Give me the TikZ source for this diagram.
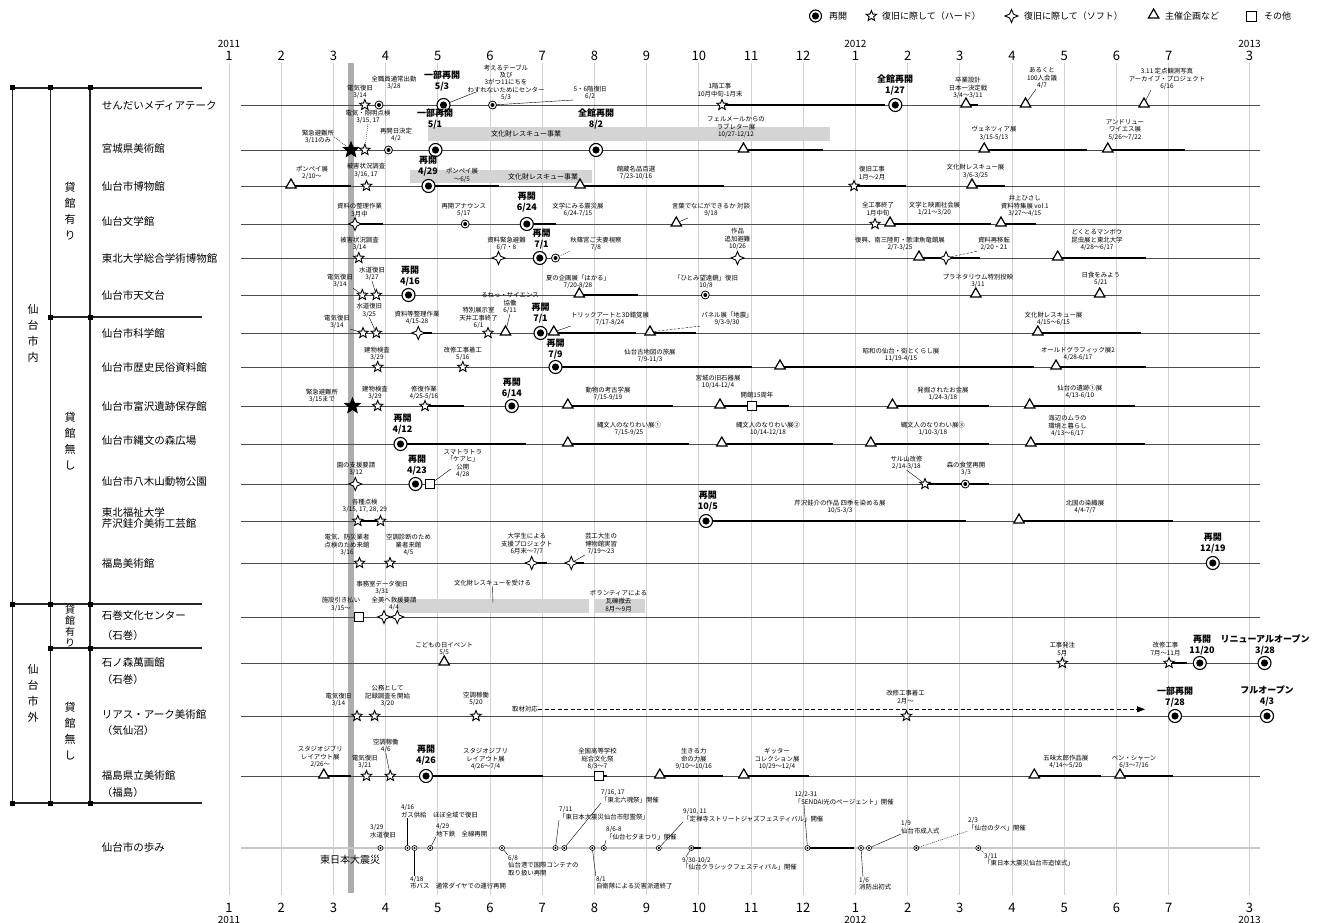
\documentclass[tikz,border=0pt]{standalone}
\usepackage{fontspec}
\setmainfont{Noto Sans CJK JP}
\usetikzlibrary{shapes.geometric,arrows.meta}
\newcommand\EvM[4]{\node[#2] (#1) at (#3,#4) {};}
\newcommand\EvL[4]{\node[lbl,anchor=south] (#1) at (#2,#3) {#4};}
\newcommand\EvB[4]{\node[bl,anchor=south] (#1) at (#2,#3) {#4};}
\def\YA{105}\def\YB{150}\def\YC{186}\def\YD{224}\def\YE{258}\def\YF{295}
\def\YG{333}\def\YH{367}\def\YI{406}\def\YJ{444}\def\YK{484}\def\YL{521}
\def\YM{563}\def\YN{617}\def\YO{663}\def\YP{716}\def\YQ{776}\def\YR{848}
\tikzset{
 grid/.style={draw=black!18, line width=0.8pt},
 rowl/.style={draw=black!70, line width=0.9pt},
 dur/.style={draw=black, line width=2.4pt},
 struct/.style={draw=black!85, line width=1.1pt},
 blk/.style={rectangle, fill=black, minimum size=5pt, inner sep=0pt},
 band/.style={fill=black!17},
 lbl/.style={font=\fontsize{6.4}{7.4}\selectfont, align=center, inner sep=0pt},
 lbll/.style={lbl, align=left},
 bl/.style={font=\bfseries\fontsize{9}{10.5}\selectfont, align=center, inner sep=0pt},
 lgt/.style={font=\fontsize{9}{10}\selectfont, anchor=west, inner sep=0pt},
 rl/.style={font=\fontsize{10.5}{12}\selectfont, anchor=west, inner sep=0pt},
 grp/.style={font=\fontsize{11}{16}\selectfont, align=center, inner sep=0pt},
 axm/.style={font=\fontsize{13}{13}\selectfont, inner sep=0pt},
 axy/.style={font=\fontsize{10}{10}\selectfont, inner sep=0pt},
 lead/.style={draw=black, line width=0.4pt},
 leaddot/.style={lead, dash pattern=on 1pt off 1pt},
 leaddash/.style={lead, dash pattern=on 2.5pt off 1.5pt},
 reo/.style={circle, draw=black, line width=1.1pt, fill=white, minimum size=13pt, inner sep=0pt,
   path picture={\fill[black] (path picture bounding box.center) circle[radius=3.6pt];}},
 reos/.style={circle, draw=black, line width=0.8pt, fill=white, minimum size=8pt, inner sep=0pt,
   path picture={\fill[black] (path picture bounding box.center) circle[radius=2pt];}},
 dot/.style={circle, draw=black, line width=0.6pt, fill=white, minimum size=5pt, inner sep=0pt,
   path picture={\fill[black] (path picture bounding box.center) circle[radius=1.2pt];}},
 hstar/.style={star, star points=5, star point ratio=2.3, draw=black, fill=white, line width=0.9pt, minimum size=11pt, inner sep=0pt},
 fstar/.style={hstar, fill=black, minimum size=16pt},
 sdia/.style={star, star points=4, star point ratio=2.4, draw=black, fill=white, line width=0.9pt, minimum size=13pt, inner sep=0pt},
 tri/.style={regular polygon, regular polygon sides=3, draw=black, fill=white, line width=1.2pt, minimum size=12pt, inner sep=0pt, yshift=1pt},
 sq/.style={rectangle, draw=black, fill=white, line width=0.9pt, minimum size=9pt, inner sep=0pt},
}
\begin{document}
\begin{tikzpicture}[x=1pt,y=-1pt]
\fill[white] (0,0) rectangle (1318,923);
\useasboundingbox (0,0) rectangle (1318,923);

% ---------- legend
\node[reo, minimum size=12pt] (lg1) at (815.5,16) {}; \node[lgt] (lg1t) at (829,16) {再開};
\node[hstar] (lg2) at (871.4,16) {}; \node[lgt] (lg2t) at (882,16) {復旧に際して（ハード）};
\node[sdia] (lg3) at (1011.5,16) {}; \node[lgt] (lg3t) at (1024,16) {復旧に際して（ソフト）};
\node[tri] (lg4) at (1153.6,16) {}; \node[lgt] (lg4t) at (1165,16) {主催企画など};
\node[sq, minimum size=10pt] (lg5) at (1251,16) {}; \node[lgt] (lg5t) at (1264,16) {その他};

% ---------- axes and grid
\foreach \k in {0,...,18} {
  \pgfmathtruncatemacro\mm{mod(\k,12)+1}
  \draw[grid] ({229+52.2*\k},63) -- ({229+52.2*\k},895);
  \node[axm] (tm\k) at ({229+52.2*\k},56) {\mm};
  \node[axm] (bm\k) at ({229+52.2*\k},908) {\mm};
}
\draw[grid] (1249.5,63) -- (1249.5,895);
\node[axm] (tm19) at (1249.5,56) {3};
\node[axm] (bm19) at (1249.5,908) {3};
\node[axy] (ty1) at (229,44) {2011}; \node[axy] (ty2) at (855.4,44) {2012}; \node[axy] (ty3) at (1249.5,44) {2013};
\node[axy] (by1) at (229,920) {2011}; \node[axy] (by2) at (855.4,920) {2012}; \node[axy] (by3) at (1249.5,920) {2013};

% earthquake band
\fill[black!32] (347.5,63) rectangle (354,893);

% ---------- left structure
\foreach \x in {12.7,50.7,90} \draw[struct] (\x,88) -- (\x,803);
\draw[struct] (12.7,88) -- (202,88);
\draw[struct] (50.7,317) -- (202,317);
\draw[struct] (12.7,604) -- (202,604);
\draw[struct] (50.7,648) -- (202,648);
\draw[struct] (12.7,803) -- (202,803);
\foreach \x/\y [count=\i] in {12.7/88,50.7/88,90/88,50.7/317,90/317,12.7/604,50.7/604,90/604,50.7/648,90/648,12.7/803,50.7/803,90/803}
  \node[blk] (sqk\i) at (\x,\y) {};
\node[grp] (g1) at (33,333) {仙\\台\\市\\内};
\node[grp] (g2) at (70,211) {貸\\館\\有\\り};
\node[grp] (g3) at (70,441) {貸\\館\\無\\し};
\node[grp, font=\fontsize{10}{11}\selectfont] (g4) at (70,626) {貸\\館\\有\\り};
\node[grp] (g5) at (33,693) {仙\\台\\市\\外};
\node[grp] (g6) at (70,731) {貸\\館\\無\\し};

\node[rl] (n1) at (101.7,\YA) {せんだいメディアテーク};
\node[rl] (n2) at (101.7,149) {宮城県美術館};
\node[rl] (n3) at (101.7,\YC) {仙台市博物館};
\node[rl] (n4) at (101.7,221) {仙台文学館};
\node[rl] (n5) at (101.7,\YE) {東北大学総合学術博物館};
\node[rl] (n6) at (101.7,\YF) {仙台市天文台};
\node[rl] (n7) at (101.7,\YG) {仙台市科学館};
\node[rl] (n8) at (101.7,\YH) {仙台市歴史民俗資料館};
\node[rl] (n9) at (101.7,\YI) {仙台市富沢遺跡保存館};
\node[rl] (n10) at (101.7,441) {仙台市縄文の森広場};
\node[rl] (n11) at (101.7,482) {仙台市八木山動物公園};
\node[rl] (n12) at (101.7,512) {東北福祉大学};
\node[rl] (n12b) at (101.7,523.5) {芹沢銈介美術工芸館};
\node[rl] (n13) at (101.7,\YM) {福島美術館};
\node[rl] (n14) at (101.7,616) {石巻文化センター};
\node[rl] (n14b) at (101.7,636) {（石巻）};
\node[rl] (n15) at (101.7,663) {石ノ森萬画館};
\node[rl] (n15b) at (101.7,680) {（石巻）};
\node[rl] (n16) at (101.7,714) {リアス・アーク美術館};
\node[rl] (n16b) at (101.7,731) {（気仙沼）};
\node[rl] (n17) at (101.7,775) {福島県立美術館};
\node[rl] (n17b) at (101.7,793) {（福島）};
\node[rl] (n18) at (101.7,\YR) {仙台市の歩み};

% ---------- rescue bands
\fill[band] (428,127) rectangle (829.5,141);
\fill[band] (410,170) rectangle (592,183.3);
\fill[band] (397.3,599.3) rectangle (589,612.7);
\fill[band] (594,599.3) rectangle (644.8,612.7);

% ---------- row lines
\foreach \y in {\YA,\YB,\YC,\YD,\YE,\YF,\YG,\YH,\YI,\YJ,\YK,\YL,\YM,\YN,\YO,\YP,\YQ}
  \draw[rowl] (241,\y) -- (1260,\y);
\draw[draw=black!22, line width=2pt] (241,\YR) -- (1260,\YR);
\node[font=\fontsize{10}{10}\selectfont, inner sep=0pt] (quake) at (350,860) {東日本大震災};

% ---------- duration bars
\foreach \a/\b/\c in {722/885/\YA, 966/978/\YA,
  743.5/823/\YB, 984.2/1086.8/\YB, 1107.8/1184.8/\YB,
  291/351/\YC, 428.5/498.8/\YC, 580/723.5/\YC, 854/905.8/\YC, 972/1004.5/\YC,
  355/383.3/\YD, 526.8/555.5/\YD, 890/991/\YD, 1001/1036/\YD,
  919/980/\YE, 1057.7/1146/\YE,
  579.3/637.8/\YF,
  418.3/432.3/\YG, 555/636/\YG, 650/695.5/\YG, 1037.8/1141/\YG,
  555.5/751.5/\YH, 780/1034/\YH, 1056/1146/\YH,
  425/463.8/\YI, 567.8/672.8/\YI, 720/789/\YI, 892.5/988.8/\YI, 1029.7/1134.7/\YI,
  400.5/525.8/\YJ, 567.8/688.5/\YJ, 721.8/833/\YJ, 870.8/988.8/\YJ, 1030.8/1145/\YJ,
  925/988.8/\YK,
  357.8/380.5/\YL, 706/966/\YL, 1019/1172.5/\YL,
  531.7/546.8/\YM, 571.3/584.2/\YM,
  1169/1186.5/\YO,
  323.8/350.8/\YQ, 426/542.6/\YQ, 598.6/607.3/\YQ, 659.8/722.8/\YQ, 743.8/809.2/\YQ, 1034.3/1100.8/\YQ, 1120/1172.5/\YQ,
  691.3/700.8/\YR, 807.5/854/\YR}
  \draw[dur] (\a,\c) -- (\b,\c);

% ---------- row 1
\EvM{a1}{hstar}{364.8}{\YA} \EvL{a1t}{360}{99}{電気復旧\\3/14}
\EvM{a2}{reos}{379}{\YA} \EvL{a2t}{394}{90}{全職員通常出勤\\3/28}
\EvM{a3}{reo}{443.5}{\YA} \EvB{a3t}{442}{91}{一部再開\\5/3}
\EvL{a4t}{506}{101}{考えるテーブル\\及び\\3がつ11にちを\\わすれないためにセンター\\5/3}
\coordinate (a4p) at (476,92); \draw[lead] (a4p) -- (a3);
\EvM{a5}{reos}{492.5}{\YA} \EvL{a5t}{590}{100}{5・6階復旧\\6/2} \draw[lead] (a5) -- (a5t.south west);
\EvM{a6}{hstar}{722}{\YA} \EvL{a6t}{720}{97}{1階工事\\10月中旬-1月末}
\EvM{a7}{reo}{895.3}{\YA} \EvB{a7t}{895}{95}{全館再開\\1/27}
\EvM{a8}{tri}{966}{\YA} \EvL{a8t}{968}{99}{卒業設計\\日本一決定戦\\3/4〜3/11}
\EvM{a9}{tri}{1025.5}{\YA} \EvL{a9t}{1042}{89}{あるくと\\100人会議\\4/7} \draw[lead] ([xshift=-6pt]a9t.south) -- (a9);
\EvM{a10}{tri}{1144}{\YA} \EvL{a10t}{1167}{90}{3.11 定点観測写真\\アーカイブ・プロジェクト\\6/16} \draw[lead] ([xshift=-16pt]a10t.south) -- (a10);

% ---------- row 2
\node[lbl, font=\fontsize{7}{8}\selectfont] (b0) at (526,134) {文化財レスキュー事業};
\EvM{b1}{fstar}{351}{\YB} \EvL{b1t}{318}{144}{緊急避難所\\3/11のみ} \draw[leaddot] (b1t.east) -- (b1);
\EvM{b2}{hstar}{364.8}{\YB} \EvL{b2t}{368}{124}{電気・照明点検\\3/15, 17} \draw[leaddot] (b2t.south) -- (b2);
\EvM{b3}{reos}{388.5}{\YB} \EvL{b3t}{396}{142}{再開日決定\\4/2}
\EvM{b4}{reo}{435.5}{\YB} \EvB{b4t}{435}{129}{一部再開\\5/1}
\EvM{b5}{reo}{596}{\YB} \EvB{b5t}{596}{129}{全館再開\\8/2}
\EvM{b6}{tri}{743.5}{\YB} \EvL{b6t}{736}{138}{フェルメールからの\\ラブレター展\\10/27-12/12}
\EvM{b7}{tri}{984.2}{\YB} \EvL{b7t}{994}{140.5}{ヴェネツィア展\\3/15-5/13}
\EvM{b8}{tri}{1107.8}{\YB} \EvL{b8t}{1125}{140.5}{アンドリュー\\ワイエス展\\5/26〜7/22}

% ---------- row 3
\node[lbl, font=\fontsize{7}{8}\selectfont] (c0) at (543,176.7) {文化財レスキュー事業};
\EvM{c1}{tri}{291}{\YC} \EvL{c1t}{312}{180}{ポンペイ展\\2/10〜}
\EvM{c2}{hstar}{366.5}{\YC} \EvL{c2t}{366}{177.5}{被害状況調査\\3/16, 17}
\EvM{c3}{reo}{428.5}{\YC} \EvB{c3t}{428}{176}{再開\\4/29}
\EvL{c4t}{462}{182.5}{ポンペイ展\\〜6/5}
\EvM{c5}{tri}{580}{\YC} \EvL{c5t}{636}{180}{館蔵名品百選\\7/23-10/16}
\EvM{c6}{hstar}{854}{\YC} \EvL{c6t}{872}{180}{復旧工事\\1月〜2月}
\EvM{c7}{tri}{972}{\YC} \EvL{c7t}{975.5}{178.5}{文化財レスキュー展\\3/6-3/25}

% ---------- row 4
\EvM{d1}{sdia}{355}{\YD} \EvL{d1t}{359.5}{217}{資料の整理作業\\3月中}
\EvM{d2}{reos}{465.2}{\YD} \EvL{d2t}{463.8}{217}{再開アナウンス\\5/17}
\EvM{d3}{reo}{526.8}{\YD} \EvB{d3t}{526.8}{212}{再開\\6/24}
\EvL{d4t}{578}{217}{文学にみる震災展\\6/24-7/15}
\EvM{d5}{tri}{676.3}{\YD} \EvL{d5t}{711}{217}{言葉でなにができるか 対談\\9/18}
\coordinate (d5p) at (688,218); \draw[lead] (d5p) -- (d5);
\EvM{d6}{hstar}{875}{\YD} \EvL{d6t}{878}{216}{全工事終了\\1月中旬}
\EvM{d7}{tri}{890}{\YD} \EvL{d7t}{934.5}{216}{文学と映画社会展\\1/21〜3/20}
\EvM{d8}{tri}{1001}{\YD} \EvL{d8t}{1024.8}{217}{井上ひさし\\資料特集展 vol.1\\3/27〜4/15}

% ---------- row 5
\EvM{e1}{hstar}{358.8}{\YE} \EvL{e1t}{359.5}{251}{被害状況調査\\3/14}
\EvM{e2}{sdia}{498.5}{\YE} \EvL{e2t}{506.5}{251}{資料緊急避難\\6/7・8}
\EvM{e3}{reo}{539.8}{\YE} \EvB{e3t}{541.5}{249}{再開\\7/1}
\EvM{e4}{reos}{555.5}{\YE} \EvL{e4t}{596}{251}{秋篠宮ご夫妻視察\\7/8} \draw[leaddot] (e4) -- (e4t.south west);
\EvM{e5}{sdia}{737.5}{\YE} \EvL{e5t}{737.5}{250}{作品\\追加避難\\10/26}
\EvM{e6}{tri}{919}{\YE} \EvL{e6t}{900}{251}{復興、南三陸町・歌津魚竜館展\\2/7-3/25}
\EvM{e7}{sdia}{946}{\YE} \EvL{e7t}{994}{251}{資料再移転\\2/20・21} \draw[leaddash] (e7) -- (e7t.south west);
\EvM{e8}{tri}{1057.7}{\YE} \EvL{e8t}{1097}{251}{どくとるマンボウ\\昆虫展と東北大学\\4/28〜6/17}

% ---------- row 6
\EvM{f1}{hstar}{362.3}{\YF} \EvM{f2}{hstar}{376.3}{\YF}
\EvL{f1t}{340}{288}{電気復旧\\3/14} \draw[lead] (f1t.south east) -- (f1);
\EvL{f2t}{372}{281}{水道復旧\\3/27} \draw[lead] (f2t.south) -- (f2);
\EvM{f3}{reo}{408.5}{\YF} \EvB{f3t}{410}{286}{再開\\4/16}
\EvM{f4}{tri}{579.3}{\YF} \EvL{f4t}{578}{289}{夏の企画展「はかる」\\7/20-8/28}
\EvM{f5}{reos}{705.3}{\YF} \EvL{f5t}{706}{289}{「ひとみ望遠鏡」復旧\\10/8}
\EvM{f6}{tri}{975.8}{\YF} \EvL{f6t}{978}{288}{プラネタリウム特別投映\\3/11}
\EvM{f7}{tri}{1099.7}{\YF} \EvL{f7t}{1100.8}{286}{日食をみよう\\5/21}

% ---------- row 7
\EvM{g1}{hstar}{363}{\YG} \EvM{g2}{hstar}{376.3}{\YG}
\EvL{g1t}{337}{329}{電気復旧\\3/14} \draw[lead] (g1t.south east) -- (g1);
\EvL{g2t}{369.3}{317.5}{水道復旧\\3/25} \draw[lead] (g2t.south) -- (g2);
\EvM{g3}{sdia}{418.3}{\YG} \EvL{g3t}{417}{325}{資料等整理作業\\4/15-28}
\EvM{g4}{hstar}{488}{\YG} \EvL{g4t}{478.5}{329}{特別展示室\\天井工事終了\\6/1}
\EvM{g5}{tri}{505.5}{\YG} \EvL{g5t}{510}{314}{るねっ・サイエンス\\協働\\6/11} \draw[lead] (g5t.south) -- (g5);
\EvM{g6}{reo}{540.5}{\YG} \EvB{g6t}{540.5}{323}{再開\\7/1}
\EvM{g7}{tri}{553.8}{\YG} \EvL{g7t}{610}{326}{トリックアートと3D錯覚展\\7/17-8/24} \draw[lead] (g7t.south west) -- (g7);
\EvM{g8}{tri}{650}{\YG} \EvL{g8t}{727}{326}{パネル展「地震」\\9/3-9/30} \draw[leaddash] (g8) -- (g8t.south west);
\EvM{g9}{tri}{1037.8}{\YG} \EvL{g9t}{1053.5}{326}{文化財レスキュー展\\4/15〜6/15}

% ---------- row 8
\EvM{h1}{hstar}{377.7}{\YH} \EvL{h1t}{377}{361}{建物検査\\3/29}
\EvM{h2}{hstar}{462.8}{\YH} \EvL{h2t}{462.8}{361}{改修工事着工\\5/16}
\EvM{h3}{reo}{555.5}{\YH} \EvB{h3t}{555.5}{359}{再開\\7/9}
\EvL{h4t}{650}{363}{仙台古地図の旅展\\7/9-11/3}
\EvM{h5}{tri}{780}{\YH} \EvL{h5t}{901}{362}{昭和の仙台・街とくらし展\\11/19-4/15}
\EvM{h6}{tri}{1056}{\YH} \EvL{h6t}{1078}{361}{オールドグラフィック展2\\4/28-6/17}

% ---------- row 9
\EvM{i1}{fstar}{352.5}{\YI} \EvL{i1t}{322}{403}{緊急避難所\\3/15まで}
\EvM{i2}{hstar}{377.7}{\YI} \EvL{i2t}{375}{400}{建物検査\\3/29}
\EvM{i3}{hstar}{425}{\YI} \EvL{i3t}{424}{400}{修復作業\\4/25-5/16}
\EvM{i4}{reo}{511.8}{\YI} \EvB{i4t}{511.8}{398}{再開\\6/14}
\EvM{i5}{tri}{567.8}{\YI} \EvL{i5t}{608}{401}{動物の考古学展\\7/15-9/19}
\EvM{i6}{tri}{720}{\YI} \EvL{i6t}{718}{389}{宮城の旧石器展\\10/14-12/4}
\EvM{i7}{sq}{751.5}{\YI} \EvL{i7t}{757}{398}{開館15周年}
\EvM{i8}{tri}{892.5}{\YI} \EvL{i8t}{943}{401}{発掘されたお金展\\1/24-3/18}
\EvM{i9}{tri}{1029.7}{\YI} \EvL{i9t}{1079.8}{399}{仙台の遺跡①展\\4/13-6/10}

% ---------- row 10
\EvM{j1}{reo}{400.5}{\YJ} \EvB{j1t}{402.5}{434}{再開\\4/12}
\EvM{j2}{tri}{567.8}{\YJ} \EvL{j2t}{629}{436}{縄文人のなりわい展①\\7/15-9/25}
\EvM{j3}{tri}{721.8}{\YJ} \EvL{j3t}{768}{436}{縄文人のなりわい展②\\10/14-12/18}
\EvM{j4}{tri}{870.8}{\YJ} \EvL{j4t}{932.8}{436}{縄文人のなりわい展③\\1/10-3/18}
\EvM{j5}{tri}{1030.8}{\YJ} \EvL{j5t}{1067.5}{437}{海辺のムラの\\環境と暮らし\\4/13〜6/17}

% ---------- row 11
\EvM{k1}{sdia}{355.3}{\YK} \EvL{k1t}{356}{476}{園の支援要請\\3/12}
\EvM{k2}{reo}{415.5}{\YK} \EvB{k2t}{417}{475}{再開\\4/23}
\EvM{k3}{sq}{430.2}{\YK} \EvL{k3t}{462.8}{478}{スマトラトラ\\「ケアヒ」\\公開\\4/28}
\coordinate (k3p) at (451,469); \draw[lead] (k3p) -- (k3);
\EvM{k4}{hstar}{925}{\YK} \EvL{k4t}{906.5}{470}{サル山改修\\2/14-3/18} \draw[lead] (k4t.south) -- (k4);
\EvM{k5}{reos}{965.3}{\YK} \EvL{k5t}{966}{476}{森の食堂再開\\3/3}

% ---------- row 12
\EvM{l1}{hstar}{357.8}{\YL} \EvM{l2}{hstar}{380.5}{\YL} \EvL{l1t}{364.8}{513}{各種点検\\3/15, 17, 28, 29}
\EvM{l3}{reo}{706}{\YL} \EvB{l3t}{707.8}{511}{再開\\10/5}
\EvL{l4t}{840}{514}{芹沢銈介の作品 四季を染める展\\10/5-3/3}
\EvM{l5}{tri}{1019}{\YL} \EvL{l5t}{1085}{514}{北国の染織展\\4/4-7/7}

% ---------- row 13
\EvM{m1}{hstar}{359.5}{\YM} \EvL{m1t}{347}{556}{電気、防災業者\\点検のため来館\\3/16}
\EvM{m2}{hstar}{390}{\YM} \EvL{m2t}{408.5}{556}{空調診断のため\\業者来館\\4/5}
\EvM{m3}{sdia}{531.7}{\YM} \EvL{m3t}{526.8}{555}{大学生による\\支援プロジェクト\\6月末〜7/7}
\EvM{m4}{sdia}{571.3}{\YM} \EvL{m4t}{601}{555}{芸工大生の\\博物館実習\\7/19〜23} \draw[lead] (m4t.south west) -- (m4);
\EvM{m5}{reo}{1212.8}{\YM} \EvB{m5t}{1212.8}{553}{再開\\12/19}

% ---------- row 14
\EvL{n0t}{492.5}{586}{文化財レスキューを受ける}
\coordinate (n0p) at (493,603); \draw[lead] (n0t.south) -- (n0p);
\EvL{n5t}{618.5}{596}{ボランティアによる}
\node[lbl] (n6t) at (618.5,605) {瓦礫撤去\\8月〜9月};
\EvM{n1}{sq}{358.5}{\YN} \EvL{n1t}{341}{611.5}{施設引き払い\\3/15〜}
\EvM{n2}{sdia}{384}{\YN} \EvM{n3}{sdia}{397.3}{\YN}
\EvL{n2t}{382}{595}{事務室データ復旧\\3/31}
\EvL{n3t}{394}{611}{全美へ救援要請\\4/4}

% ---------- row 15
\EvM{o1}{tri}{444.2}{\YO} \EvL{o1t}{444.2}{656}{こどもの日イベント\\5/5}
\EvM{o2}{hstar}{1062.3}{\YO} \EvL{o2t}{1062.3}{656}{工事発注\\5月}
\EvM{o3}{hstar}{1169}{\YO} \EvL{o3t}{1165.5}{656}{改修工事\\7月〜11月}
\EvM{o4}{reo}{1199.8}{\YO} \EvB{o4t}{1202}{655}{再開\\11/20}
\EvM{o5}{reo}{1264.5}{\YO} \EvB{o5t}{1265}{655}{リニューアルオープン\\3/28}

% ---------- row 16
\EvM{p1}{hstar}{357}{\YP} \EvM{p2}{hstar}{374.6}{\YP}
\EvL{p1t}{338.5}{707}{電気復旧\\3/14}
\EvL{p2t}{387.5}{707}{公務として\\記録調査を開始\\3/20}
\EvM{p3}{hstar}{476}{\YP} \EvL{p3t}{476}{706}{空調稼働\\5/20}
\node[lbl, anchor=east] (p4t) at (538,709.3) {取材対応};
\coordinate (p4e) at (1145,709.3);
\draw[line width=0.8pt, dash pattern=on 4pt off 2.5pt, -{Triangle[length=8pt,width=6pt]}] (p4t.east) -- (p4e);
\EvM{p5}{hstar}{906.5}{\YP} \EvL{p5t}{905.5}{704}{改修工事着工\\2月〜}
\EvM{p6}{reo}{1175}{\YP} \EvB{p6t}{1175}{707}{一部再開\\7/28}
\EvM{p7}{reo}{1267}{\YP} \EvB{p7t}{1267}{706}{フルオープン\\4/3}

% ---------- row 17
\EvM{q1}{tri}{323.8}{\YQ} \EvL{q1t}{320.3}{768}{スタジオジブリ\\レイアウト展\\2/26〜}
\EvM{q2}{hstar}{366.5}{\YQ} \EvL{q2t}{364.8}{769}{電気復旧\\3/21}
\EvM{q3}{hstar}{390.3}{\YQ} \EvL{q3t}{385.8}{753}{空調稼働\\4/6} \draw[lead] (q3t.south) -- (q3);
\EvM{q4}{reo}{426}{\YQ} \EvB{q4t}{426}{765}{再開\\4/26}
\EvL{q5t}{485.5}{770}{スタジオジブリ\\レイアウト展\\4/26〜7/4}
\EvM{q6}{sq}{598.6}{\YQ} \EvL{q6t}{597.5}{770}{全国高等学校\\総合文化祭\\8/3〜7}
\EvM{q7}{tri}{659.8}{\YQ} \EvL{q7t}{693.8}{770}{生きる力\\命の力展\\9/10〜10/16}
\EvM{q8}{tri}{743.8}{\YQ} \EvL{q8t}{777}{770}{ギッター\\コレクション展\\10/29〜12/4}
\EvM{q9}{tri}{1034.3}{\YQ} \EvL{q9t}{1065.8}{769}{五味太郎作品展\\4/14〜5/20}
\EvM{q10}{tri}{1120}{\YQ} \EvL{q10t}{1134}{769}{ベン・シャーン\\6/3〜7/16}

% ---------- row 18
\EvM{r1}{dot}{380.5}{\YR} \node[lbll, anchor=south west] (r1t) at (370,838) {3/29\\水道復旧};
\EvM{r2}{dot}{407.5}{\YR} \node[lbll, anchor=south west] (r2t) at (400.8,818) {4/16\\ガス供給　ほぼ全域で復旧};
\coordinate (r2p) at (407.5,818); \draw[lead] (r2p) -- (r2);
\EvM{r3}{dot}{414.5}{\YR} \node[lbll, anchor=north west] (r3t) at (410,876) {4/18\\市バス　通常ダイヤでの運行再開};
\coordinate (r3p) at (414.5,876); \draw[lead] (r3) -- (r3p);
\EvM{r4}{dot}{430.2}{\YR} \node[lbll, anchor=south west] (r4t) at (435.8,837) {4/29\\地下鉄　全線再開}; \draw[lead] (r4) -- (r4t.south west);
\EvM{r5}{dot}{502}{\YR} \node[lbll, anchor=north west] (r5t) at (508,855) {6/8\\仙台港で国際コンテナの\\取り扱い再開}; \draw[lead] (r5) -- (r5t.north west);
\EvM{r6}{dot}{555.5}{\YR} \node[lbll, anchor=south west] (r6t) at (559,820) {7/11\\「東日本大震災仙台市慰霊祭」}; \draw[lead] (r6) -- (r6t.south west);
\EvM{r7}{dot}{564.3}{\YR} \node[lbll, anchor=south west] (r7t) at (601,803) {7/16, 17\\「東北六魂祭」開催}; \draw[lead] (r7) -- (r7t.south west);
\EvM{r8}{dot}{592.3}{\YR} \node[lbll, anchor=north west] (r8t) at (595.8,876) {8/1\\自衛隊による災害派遣終了}; \draw[lead] (r8) -- (r8t.north west);
\EvM{r9}{dot}{603.8}{\YR} \node[lbll, anchor=south west] (r9t) at (606,840) {8/6-8\\「仙台七夕まつり」開催}; \draw[lead] (r9) -- (r9t.south west);
\EvM{r10}{dot}{658.8}{\YR} \node[lbll, anchor=south west] (r10t) at (683,822) {9/10, 11\\「定禅寺ストリートジャズフェスティバル」開催}; \draw[lead] (r10) -- (r10t.south west);
\EvM{r11}{dot}{691.3}{\YR} \node[lbll, anchor=north west] (r11t) at (682,857) {9/30-10/2\\「仙台クラシックフェスティバル」開催}; \draw[lead] (r11) -- ([xshift=4pt]r11t.north west);
\EvM{r12}{dot}{807.5}{\YR} \node[lbll, anchor=south west] (r12t) at (794.5,805) {12/2-31\\「SENDAI光のページェント」開催};
\coordinate (r12p) at (804,805); \draw[lead] (r12p) -- (r12);
\EvM{r13}{dot}{861}{\YR} \node[lbll, anchor=north west] (r13t) at (859,877) {1/6\\消防出初式}; \draw[lead] (r13) -- ([xshift=4pt]r13t.north west);
\EvM{r14}{dot}{869}{\YR} \node[lbll, anchor=south west] (r14t) at (901,834) {1/9\\仙台市成人式}; \draw[lead] (r14) -- (r14t.south west);
\EvM{r15}{dot}{916.3}{\YR} \node[lbll, anchor=south west] (r15t) at (968,831) {2/3\\「仙台の夕べ」開催}; \draw[leaddot] (r15) -- (r15t.south west);
\EvM{r16}{dot}{978.3}{\YR} \node[lbll, anchor=north west] (r16t) at (984,853) {3/11\\「東日本大震災仙台市追悼式」}; \draw[leaddot] (r16) -- (r16t.north west);
\end{tikzpicture}
\end{document}
